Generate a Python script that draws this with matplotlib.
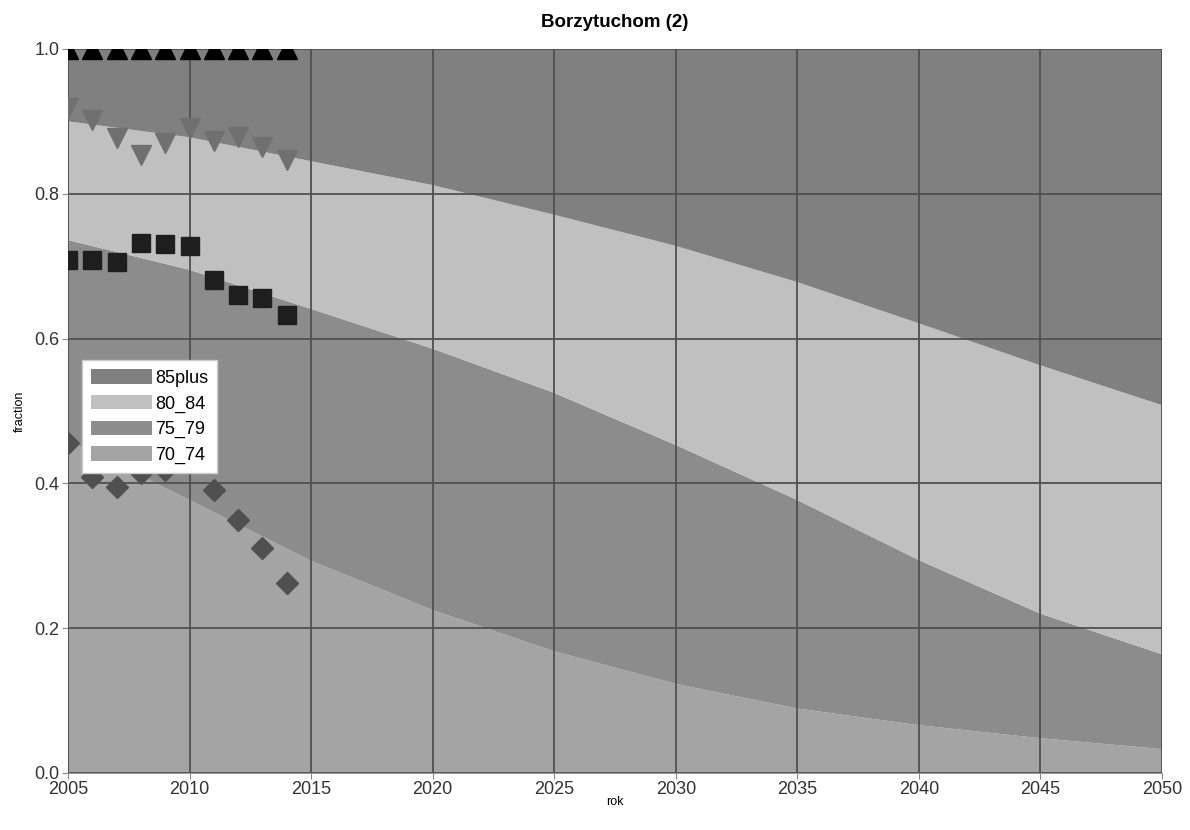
import matplotlib
matplotlib.use('Agg')
import matplotlib.pyplot as plt
import numpy as np

plt.rcParams['font.family'] = ['Liberation Sans', 'DejaVu Sans']

# projection years and age-group fractions (stacked, bottom to top)
years = [2005, 2010, 2015, 2020, 2025, 2030, 2035, 2040, 2045, 2050]
f70_74 = [0.460, 0.377, 0.293, 0.225, 0.168, 0.123, 0.089, 0.066, 0.048, 0.033]
f75_79 = [0.276, 0.318, 0.348, 0.361, 0.357, 0.330, 0.288, 0.228, 0.172, 0.131]
f80_84 = [0.164, 0.183, 0.204, 0.226, 0.246, 0.275, 0.301, 0.327, 0.343, 0.344]
f85plus = [0.100, 0.122, 0.155, 0.188, 0.229, 0.272, 0.322, 0.379, 0.437, 0.492]

# observed cumulative fractions
obs_years = list(range(2005, 2015))
obs_85 = [1.0] * 10
obs_80 = [0.918, 0.902, 0.877, 0.854, 0.870, 0.891, 0.873, 0.878, 0.865, 0.847]
obs_75 = [0.709, 0.709, 0.706, 0.732, 0.731, 0.728, 0.681, 0.660, 0.656, 0.633]
obs_70 = [0.456, 0.409, 0.395, 0.414, 0.418, 0.435, 0.391, 0.349, 0.311, 0.262]

labels = ['70_74', '75_79', '80_84', '85plus']
colors = ['#a4a4a4', '#8c8c8c', '#c0c0c0', '#808080']

fig = plt.figure(figsize=(11.9, 8.3), dpi=100)
ax = fig.add_axes([0.0571, 0.0687, 0.9194, 0.8723])

polys = ax.stackplot(years, f70_74, f75_79, f80_84, f85plus,
                     colors=colors, labels=labels, linewidth=0)

ax.plot(obs_years, obs_85, linestyle='none', marker='^', markersize=14,
        color='black', zorder=4)
ax.plot(obs_years, obs_80, linestyle='none', marker='v', markersize=14,
        color='#707070', zorder=4)
ax.plot(obs_years, obs_75, linestyle='none', marker='s', markersize=13,
        color='#1e1e1e', zorder=4)
ax.plot(obs_years, obs_70, linestyle='none', marker='D', markersize=11,
        color='#505050', zorder=4)

ax.set_xlim(2005, 2050)
ax.set_ylim(0, 1)
ax.set_xticks(range(2005, 2051, 5))
ax.set_yticks(np.arange(0, 1.01, 0.2))
ax.set_yticklabels(['%.1f' % v for v in np.arange(0, 1.01, 0.2)])
ax.tick_params(labelsize=13, colors='#333333', length=4, color='#888888',
               pad=2)

ax.set_axisbelow(False)
ax.grid(True, color='#505050', linewidth=1.3)
for s in ax.spines.values():
    s.set_color('#999999')
ax.spines['top'].set_visible(False)
ax.spines['right'].set_visible(False)

ax.set_title('Borzytuchom (2)', fontsize=13.5, fontweight='bold', pad=16)
ax.set_xlabel('rok', fontsize=9, labelpad=-2)
ax.set_ylabel('fraction', fontsize=9, labelpad=6)

handles = polys[::-1]
leg = ax.legend(handles, labels[::-1], loc='upper left',
                bbox_to_anchor=(0.0128, 0.570), fontsize=13,
                frameon=True, fancybox=False, handlelength=3.4,
                handleheight=0.85, handletextpad=0.15, labelspacing=0.45,
                borderpad=0.5, borderaxespad=0, framealpha=1)
leg.get_frame().set_edgecolor('#cccccc')
leg.get_frame().set_linewidth(1)
leg.set_zorder(6)

fig.savefig('out.png', dpi=100)
